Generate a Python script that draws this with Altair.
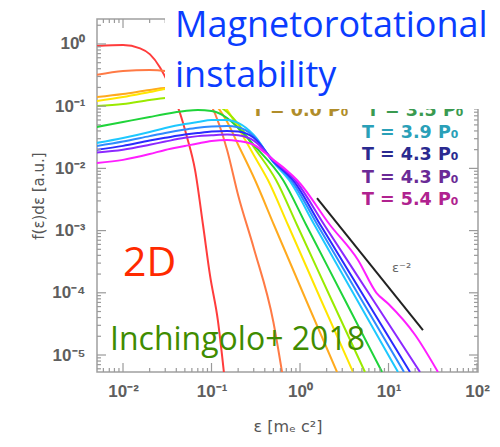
import altair as alt
import pandas as pd

# Particle energy spectra: energy ε [m_e c²] and f(ε)dε [a.u.], one pair of lists per snapshot
red_e = [0.00508, 0.01, 0.0156, 0.0202, 0.0262, 0.0322, 0.0387, 0.0441, 0.0528, 0.0652, 0.0802, 0.0962, 0.118, 0.138]
red_f = [0.93, 0.96, 0.85, 0.68, 0.42, 0.24, 0.13, 0.077, 0.032, 0.0094, 0.00123, 1.9e-4, 3.6e-5, 5.3e-6]

coral_e = [0.005, 0.01, 0.02, 0.03, 0.05, 0.07, 0.1, 0.15, 0.2, 0.3, 0.5, 0.627]
coral_f = [0.318, 0.368, 0.382, 0.368, 0.295, 0.196, 0.101, 0.0198, 0.0037, 5.25e-4, 3.4e-5, 5.3e-6]

orange_e = [0.005, 0.01, 0.02, 0.03, 0.05, 0.07, 0.1, 0.15, 0.2, 0.31, 0.508, 1.169, 2.618]
orange_f = [0.14, 0.157, 0.182, 0.196, 0.196, 0.176, 0.126, 0.056, 0.024, 0.0065, 0.00123, 7.66e-5, 5.33e-6]

yellow_e = [0.005, 0.01, 0.02, 0.03, 0.05, 0.07, 0.1, 0.15, 0.2, 0.3, 0.434, 0.732, 1.727, 3.97]
yellow_f = [0.121, 0.14, 0.169, 0.189, 0.2035, 0.196, 0.163, 0.087, 0.045, 0.0164, 0.0065, 0.00123, 7.66e-5, 5.33e-6]

lime_e = [0.005, 0.01, 0.02, 0.03, 0.05, 0.07, 0.1, 0.15, 0.2, 0.3, 0.536, 0.925, 2.276, 5.42]
lime_f = [0.1007, 0.1085, 0.1258, 0.1355, 0.1406, 0.1355, 0.1168, 0.0807, 0.0517, 0.0221, 0.0065, 0.00123, 7.66e-5, 5.33e-6]

green_e = [0.005, 0.01, 0.02, 0.03, 0.05, 0.07, 0.1, 0.15, 0.2, 0.3, 0.643, 1.175, 3.216, 8.45]
green_f = [0.0463, 0.0557, 0.067, 0.0749, 0.0837, 0.0869, 0.0837, 0.0646, 0.0446, 0.0238, 0.0065, 0.00123, 7.66e-5, 5.33e-6]

cyan_e = [0.005, 0.01, 0.02, 0.03, 0.05, 0.07, 0.1, 0.15, 0.2, 0.3, 0.5, 0.751, 1.458, 4.418, 12.8]
cyan_f = [0.0256, 0.0308, 0.0385, 0.0446, 0.0517, 0.0557, 0.06, 0.06, 0.0537, 0.0344, 0.0125, 0.0065, 0.00123, 7.66e-5, 5.33e-6]

azure_e = [0.005, 0.01, 0.02, 0.03, 0.05, 0.07, 0.1, 0.15, 0.2, 0.3, 0.5, 0.791, 1.577, 4.966, 14.96]
azure_f = [0.0229, 0.027, 0.033, 0.037, 0.042, 0.045, 0.047, 0.048, 0.046, 0.033, 0.0128, 0.0065, 0.00123, 7.66e-5, 5.33e-6]

blue_e = [0.005, 0.01, 0.02, 0.03, 0.05, 0.07, 0.1, 0.15, 0.2, 0.3, 0.5, 0.834, 1.701, 5.585, 17.5]
blue_f = [0.0198, 0.023, 0.028, 0.031, 0.035, 0.037, 0.039, 0.040, 0.039, 0.031, 0.013, 0.0065, 0.00123, 7.66e-5, 5.33e-6]

violet_e = [0.005, 0.01, 0.02, 0.03, 0.05, 0.07, 0.1, 0.15, 0.2, 0.3, 0.5, 0.878, 1.882, 6.70, 22.7]
violet_f = [0.018, 0.02, 0.024, 0.027, 0.031, 0.033, 0.034, 0.035, 0.034, 0.028, 0.0135, 0.0065, 0.00123, 7.66e-5, 5.33e-6]

magenta_e = [0.005, 0.01, 0.02, 0.03, 0.05, 0.07, 0.1, 0.15, 0.2, 0.3, 0.5, 0.7, 0.925, 2.183, 4.52, 7.3, 10.0, 20.0, 36.2]
magenta_f = [0.0122, 0.0137, 0.017, 0.0198, 0.0229, 0.0252, 0.0276, 0.0287, 0.0276, 0.024, 0.0137, 0.0094, 0.0065, 0.00123, 3.37e-4, 1.0e-4, 6.6e-5, 2.1e-5, 5.33e-6]

series = [
    ("s01", red_e, red_f, "#ff3c3c"),
    ("s02", coral_e, coral_f, "#ff7a45"),
    ("s03", orange_e, orange_f, "#ffaa1e"),
    ("s04", yellow_e, yellow_f, "#ffe600"),
    ("s05", lime_e, lime_f, "#9aea00"),
    ("s06", green_e, green_f, "#1fd43a"),
    ("s07", cyan_e, cyan_f, "#1ec8ff"),
    ("s08", azure_e, azure_f, "#2e8bff"),
    ("s09", blue_e, blue_f, "#2a2aff"),
    ("s10", violet_e, violet_f, "#8c28ff"),
    ("s11", magenta_e, magenta_f, "#ff1eff"),
]

# ε^-2 reference segment
slope_e = [1.556, 24.5]
slope_f = [0.00334, 2.52e-5]

# axis ticks
x_major = [0.01, 0.1, 1, 10, 100]
x_minor = [0.006, 0.007, 0.008, 0.009,
           0.02, 0.03, 0.04, 0.05, 0.06, 0.07, 0.08, 0.09,
           0.2, 0.3, 0.4, 0.5, 0.6, 0.7, 0.8, 0.9,
           2, 3, 4, 5, 6, 7, 8, 9,
           20, 30, 40, 50, 60, 70, 80, 90]
y_major = [1, 0.1, 0.01, 0.001, 1e-4, 1e-5]
y_minor = [6e-6, 7e-6, 8e-6, 9e-6,
           2e-5, 3e-5, 4e-5, 5e-5, 6e-5, 7e-5, 8e-5, 9e-5,
           2e-4, 3e-4, 4e-4, 5e-4, 6e-4, 7e-4, 8e-4, 9e-4,
           2e-3, 3e-3, 4e-3, 5e-3, 6e-3, 7e-3, 8e-3, 9e-3,
           0.02, 0.03, 0.04, 0.05, 0.06, 0.07, 0.08, 0.09,
           0.2, 0.3, 0.4, 0.5, 0.6, 0.7, 0.8, 0.9, 2]

legend_labels = ["T = 3.9 P₀", "T = 4.3 P₀", "T = 4.3 P₀", "T = 5.4 P₀"]
legend_colors = ["#2aa0b8", "#2a2a90", "#6a2a96", "#b0228f"]
hidden_labels = ["T = 0.0 P₀", "T = 3.5 P₀"]
hidden_colors = ["#b08d2a", "#3a9a50"]

W, H = 381, 353
X_DOMAIN = [0.005083, 102.6]
Y_DOMAIN = [5.33e-6, 2.52]
X_TITLE = "ε [mₑ c²]"
Y_TITLE = "f(ε)dε [a.u.]"

rows = []
for name, es, fs, _ in series:
    for e, f in zip(es, fs):
        rows.append({"run": name, "e": e, "f": f})
df = pd.DataFrame(rows)

sup = {-5: "⁻⁵", -4: "⁻⁴", -3: "⁻³", -2: "⁻²", -1: "⁻¹", 0: "⁰", 1: "¹", 2: "²"}
chain = "''"
for k, v in sup.items():
    chain = f"(round(log(datum.value)/LN10) == {k} ? '{v}' : {chain})"
label_expr = "'10' + " + chain

xscale = alt.Scale(type="log", domain=X_DOMAIN, nice=False)
yscale = alt.Scale(type="log", domain=Y_DOMAIN, nice=False)

curves = alt.Chart(df).mark_line(strokeWidth=2, interpolate="monotone", clip=True).encode(
    x=alt.X("e:Q", scale=xscale, title=X_TITLE,
            axis=alt.Axis(values=x_major, labelExpr=label_expr, labelPadding=11,
                          labelFlush=False, titlePadding=19, titleFontSize=16)),
    y=alt.Y("f:Q", scale=yscale, title=Y_TITLE,
            axis=alt.Axis(values=y_major, labelExpr=label_expr, labelPadding=12,
                          titlePadding=5)),
    color=alt.Color("run:N", legend=None,
                    scale=alt.Scale(domain=[s[0] for s in series], range=[s[3] for s in series])),
)

X_ENC = alt.X("e:Q", scale=xscale, title=X_TITLE)
Y_ENC = alt.Y("f:Q", scale=yscale, title=Y_TITLE)


def xticks(vals, length):
    d = pd.DataFrame({"e": vals})
    base = alt.Chart(d).mark_rule(color="#9a9a9a", strokeWidth=1.2)
    bottom = base.encode(x=X_ENC, y=alt.value(H), y2=alt.value(H - length))
    top = base.encode(x=X_ENC, y=alt.value(0), y2=alt.value(length))
    return [bottom, top]


def yticks(vals, length):
    d = pd.DataFrame({"f": vals})
    base = alt.Chart(d).mark_rule(color="#9a9a9a", strokeWidth=1.2)
    left = base.encode(y=Y_ENC, x=alt.value(0), x2=alt.value(length))
    right = base.encode(y=Y_ENC, x=alt.value(W), x2=alt.value(W - length))
    return [left, right]


tick_layers = xticks(x_major, 9) + xticks(x_minor, 4) + yticks(y_major, 9) + yticks(y_minor, 4)

slope_line = alt.Chart(pd.DataFrame({"e": slope_e, "f": slope_f})).mark_line(
    color="#222222", strokeWidth=2).encode(x=X_ENC, y=Y_ENC)

one = alt.Data(values=[{}])


def label(text, x, y, size, color, font="Open Sans", weight="normal", align="left"):
    return alt.Chart(one).mark_text(text=text, align=align, baseline="alphabetic", font=font,
                                    fontSize=size, fontWeight=weight, color=color).encode(
        x=alt.value(x), y=alt.value(y))


slope_text = label("ε⁻²", 295, 253, 13, "#666666", font="DejaVu Sans")

legend_layers = []
for i, (t, c) in enumerate(zip(legend_labels, legend_colors)):
    legend_layers.append(label(t, 265, 119 + 22.3 * i, 17.5, c, font="DejaVu Sans", weight="bold"))
legend_layers.append(label(hidden_labels[0], 155, 97, 17.5, hidden_colors[0], font="DejaVu Sans", weight="bold"))
legend_layers.append(label(hidden_labels[1], 270, 97, 17.5, hidden_colors[1], font="DejaVu Sans", weight="bold"))

white_box = alt.Chart(one).mark_rect(color="white").encode(
    x=alt.value(68), x2=alt.value(410), y=alt.value(-25), y2=alt.value(90))

title1 = label("Magnetorotational", 78, 18, 36, "#0a3cff")
title2 = label("instability", 78, 68, 36, "#0a3cff")
tag2d = label("2D", 26, 257, 41, "#ff2a00")
cite = label("Inchingolo+ 2018", 13, 331, 32, "#3f8c00")

chart = alt.layer(
    curves, *tick_layers, slope_line, slope_text, *legend_layers,
    white_box, title1, title2, tag2d, cite
).properties(
    width=W, height=H,
    padding={"left": 97, "top": 19, "right": 22, "bottom": 75},
    autosize=alt.AutoSizeParams(type="none"),
    background="white",
).configure_view(
    stroke="#a0a0a0", strokeWidth=1.5
).configure_axis(
    ticks=False, domain=False, grid=False, labelOverlap=False,
    labelFont="Liberation Sans", labelFontWeight="bold", labelFontSize=17, labelColor="#5e5e5e",
    titleFont="DejaVu Sans", titleFontWeight="normal", titleFontSize=15, titleColor="#555555",
)

chart.save("out.html", embed_options={"renderer": "svg", "actions": False})
